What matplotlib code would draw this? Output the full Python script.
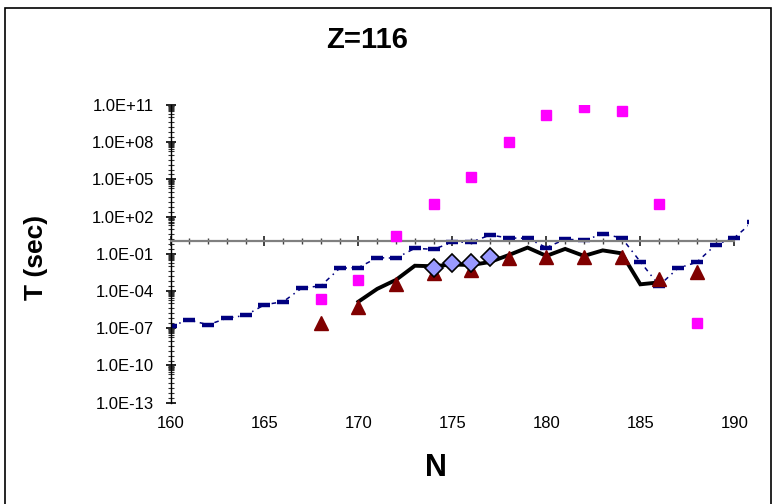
import matplotlib
matplotlib.use('Agg')
import matplotlib.pyplot as plt
from matplotlib.patches import Rectangle
from matplotlib.ticker import FixedLocator, FuncFormatter, MultipleLocator, NullLocator

plt.rcParams['font.family'] = ['Liberation Sans', 'DejaVu Sans']

# --- data ---
n_sq = [168, 170, 172, 174, 176, 178, 180, 182, 184, 186, 188]
t_sq = [2.5e-5, 7.4e-4, 2.8, 1e3, 1.5e5, 1e8, 1.7e10, 7e10, 3e10, 1e3, 2.5e-7]

n_tri = [168, 170, 172, 174, 176, 178, 180, 182, 184, 186, 188]
t_tri = [2.5e-7, 4.9e-6, 3.7e-4, 2.8e-3, 5e-3, 4.5e-2, 5.4e-2, 5.4e-2, 5.4e-2, 1e-3, 3.2e-3]

n_line = list(range(170, 187))
t_line = [1.4e-5, 1.5e-4, 8e-4, 1.1e-2, 1e-2, 1.4e-2, 1.25e-2, 2.2e-2, 8e-2,
          0.32, 6.8e-2, 0.25, 6.8e-2, 0.19, 0.11, 3.5e-4, 5e-4]

n_dia = [174, 175, 176, 177]
t_dia = [7.8e-3, 1.9e-2, 1.9e-2, 5.9e-2]

n_dash = list(range(160, 192))
t_dash = [1.5e-7, 4.7e-7, 1.9e-7, 6.5e-7, 1.1e-6, 7.9e-6, 1.4e-5, 1.8e-4,
          2.6e-4, 6.9e-3, 7.8e-3, 4.9e-2, 4.5e-2, 0.28, 0.23, 0.87, 0.87,
          3.3, 1.9, 1.8, 0.32, 1.5, 1.3, 3.8, 2.0, 2.3e-2, 2.8e-4, 6.9e-3,
          2.1e-2, 0.52, 2.0, 40]

x_labels = [160, 165, 170, 175, 180, 185, 190]

W, H = 780, 504
fig = plt.figure(figsize=(W / 100, H / 100), dpi=100)
ax = fig.add_axes([170.5 / W, (H - 402.7) / H, (734.3 - 170.5) / W, (402.7 - 105) / H])

navy = '#000080'
dash_line, = ax.plot(n_dash, t_dash, color=navy, lw=1.1, ls=(0, (3, 3, 1, 3)),
                     marker='_', ms=9, mew=3.2, zorder=2)
dash_line.set_clip_path(Rectangle((0, 0), 1.025, 1, transform=ax.transAxes))
ax.plot(n_line, t_line, color='black', lw=2.8, zorder=3, solid_joinstyle='miter')
ax.plot(n_sq, t_sq, ls='none', marker='s', ms=7.5, color='#ff00ff', mec='#ff00ff', zorder=4)
ax.plot(n_tri, t_tri, ls='none', marker='^', ms=9.5, color='#800000', mec='#800000', zorder=4)
ax.plot(n_dia, t_dia, ls='none', marker='D', ms=9.5, color='#9999ff', mec='black', mew=1.2, zorder=5)

ax.set_yscale('log')
ax.set_xlim(160, 190)
ax.set_ylim(1e-13, 1e11)

# spines: y axis on the left, x axis crossing at T = 1
for s in ['top', 'right']:
    ax.spines[s].set_visible(False)
ax.spines['left'].set_color('black')
ax.spines['left'].set_linewidth(1.0)
ax.spines['bottom'].set_position(('data', 1))
ax.spines['bottom'].set_color('#808080')
ax.spines['bottom'].set_linewidth(1.6)

# y ticks, Excel style
maj_exp = list(range(-13, 12, 3))
ax.yaxis.set_major_locator(FixedLocator([10.0 ** e for e in maj_exp]))
minor = []
for e in maj_exp:
    minor += [k * 10.0 ** (e - 1) for k in range(2, 10)]
    minor += [10.0 ** (e - 1 - 0.4 * i) for i in range(5)]
minor = [m for m in minor if 1e-13 <= m <= 1e11]
ax.yaxis.set_minor_locator(FixedLocator(minor))
ax.yaxis.set_major_formatter(FuncFormatter(lambda v, p: f'{v:.1E}'))
ax.yaxis.set_minor_formatter(FuncFormatter(lambda v, p: ''))
ax.tick_params(axis='y', which='major', direction='inout', length=7, width=1.2,
               pad=8.5, labelsize=12, colors='black')
ax.tick_params(axis='y', which='minor', direction='inout', length=5, width=0.8, color='#333333')

# x ticks on the crossing axis, no labels there
ax.xaxis.set_major_locator(MultipleLocator(5))
ax.xaxis.set_minor_locator(MultipleLocator(1))
ax.tick_params(axis='x', which='major', direction='inout', length=7, width=1.4,
               color='#404040', labelbottom=False)
ax.tick_params(axis='x', which='minor', direction='inout', length=5, width=1.0, color='#404040')

# x tick labels at the bottom of the plot area
sec = ax.secondary_xaxis('bottom')
sec.spines['bottom'].set_visible(False)
sec.xaxis.set_major_locator(FixedLocator(x_labels))
sec.xaxis.set_minor_locator(NullLocator())
sec.tick_params(axis='x', which='both', length=0, pad=9.5, labelsize=12)

fig.text(367 / W, 1 - 40 / H, 'Z=116', ha='center', va='center', fontsize=21, fontweight='bold')
fig.text(436 / W, 1 - 468 / H, 'N', ha='center', va='center', fontsize=22, fontweight='bold')
fig.text(36 / W, 1 - 257 / H, 'T (sec)', ha='center', va='center', rotation=90,
         fontsize=19, fontweight='bold')

# chart border
fig.patches.append(Rectangle((5 / W, -0.1), (771 - 5) / W, 1.1 - 8 / H, transform=fig.transFigure,
                             fill=False, ec='black', lw=1.2))

fig.savefig('out.png', dpi=100)
